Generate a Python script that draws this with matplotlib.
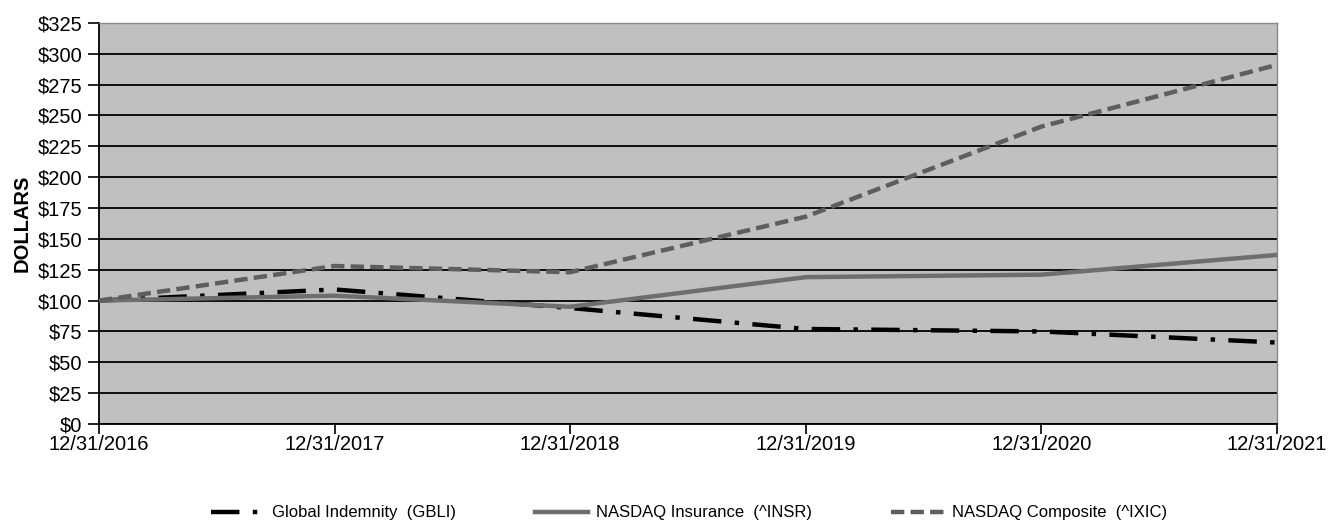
import matplotlib
matplotlib.use("Agg")
import matplotlib.pyplot as plt

dates = ["12/31/2016", "12/31/2017", "12/31/2018", "12/31/2019", "12/31/2020", "12/31/2021"]
gbli = [100, 109, 94, 77, 75, 66]
insr = [100, 104, 95, 119, 121, 137]
ixic = [100, 128, 123, 168, 241, 291]
yticks = list(range(0, 326, 25))
ylabels = [f"${v}" for v in yticks]

plt.rcParams['font.family'] = ['Liberation Sans', 'DejaVu Sans']

fig = plt.figure(figsize=(13.3, 5.2), dpi=100)
ax = fig.add_axes([0.0744, 0.1846, 0.8858, 0.7714])
ax.set_facecolor("#c0c0c0")

x = list(range(len(dates)))
ax.plot(x, gbli, color="black", lw=3.2, dashes=(6.4, 3, 1, 3), label="Global Indemnity  (GBLI)", zorder=3)
ax.plot(x, insr, color="#6e6e6e", lw=3.2, label="NASDAQ Insurance  (^INSR)", zorder=3)
ax.plot(x, ixic, color="#5e5e5e", lw=3.2, dashes=(3, 1.4), label="NASDAQ Composite  (^IXIC)", zorder=3)

ax.set_xlim(0, len(dates) - 1)
ax.set_ylim(0, 325)
ax.set_yticks(yticks)
ax.set_yticklabels(ylabels, fontsize=14.5)
ax.set_xticks(x)
ax.set_xticklabels(dates, fontsize=14.5)
ax.yaxis.grid(True, color="black", lw=1.3)
ax.set_axisbelow(True)
ax.tick_params(axis="y", direction="out", length=8, width=1.2, color="black", pad=4)
ax.tick_params(axis="x", direction="out", length=7, width=1.2, color="black", pad=1)
for s in ["left", "bottom"]:
    ax.spines[s].set_color("black")
    ax.spines[s].set_linewidth(1.3)
for s in ["top", "right"]:
    ax.spines[s].set_color("#888888")
    ax.spines[s].set_linewidth(1.0)
ax.set_ylabel("DOLLARS", fontsize=14.5, fontweight="bold", labelpad=4)

fig.legend(loc="center", bbox_to_anchor=(0.518, 0.0135), ncol=3, frameon=False,
           fontsize=12, handlelength=3.2, columnspacing=4.7, handletextpad=0.5,
           borderpad=0.1)

fig.savefig("out.png", dpi=100)
